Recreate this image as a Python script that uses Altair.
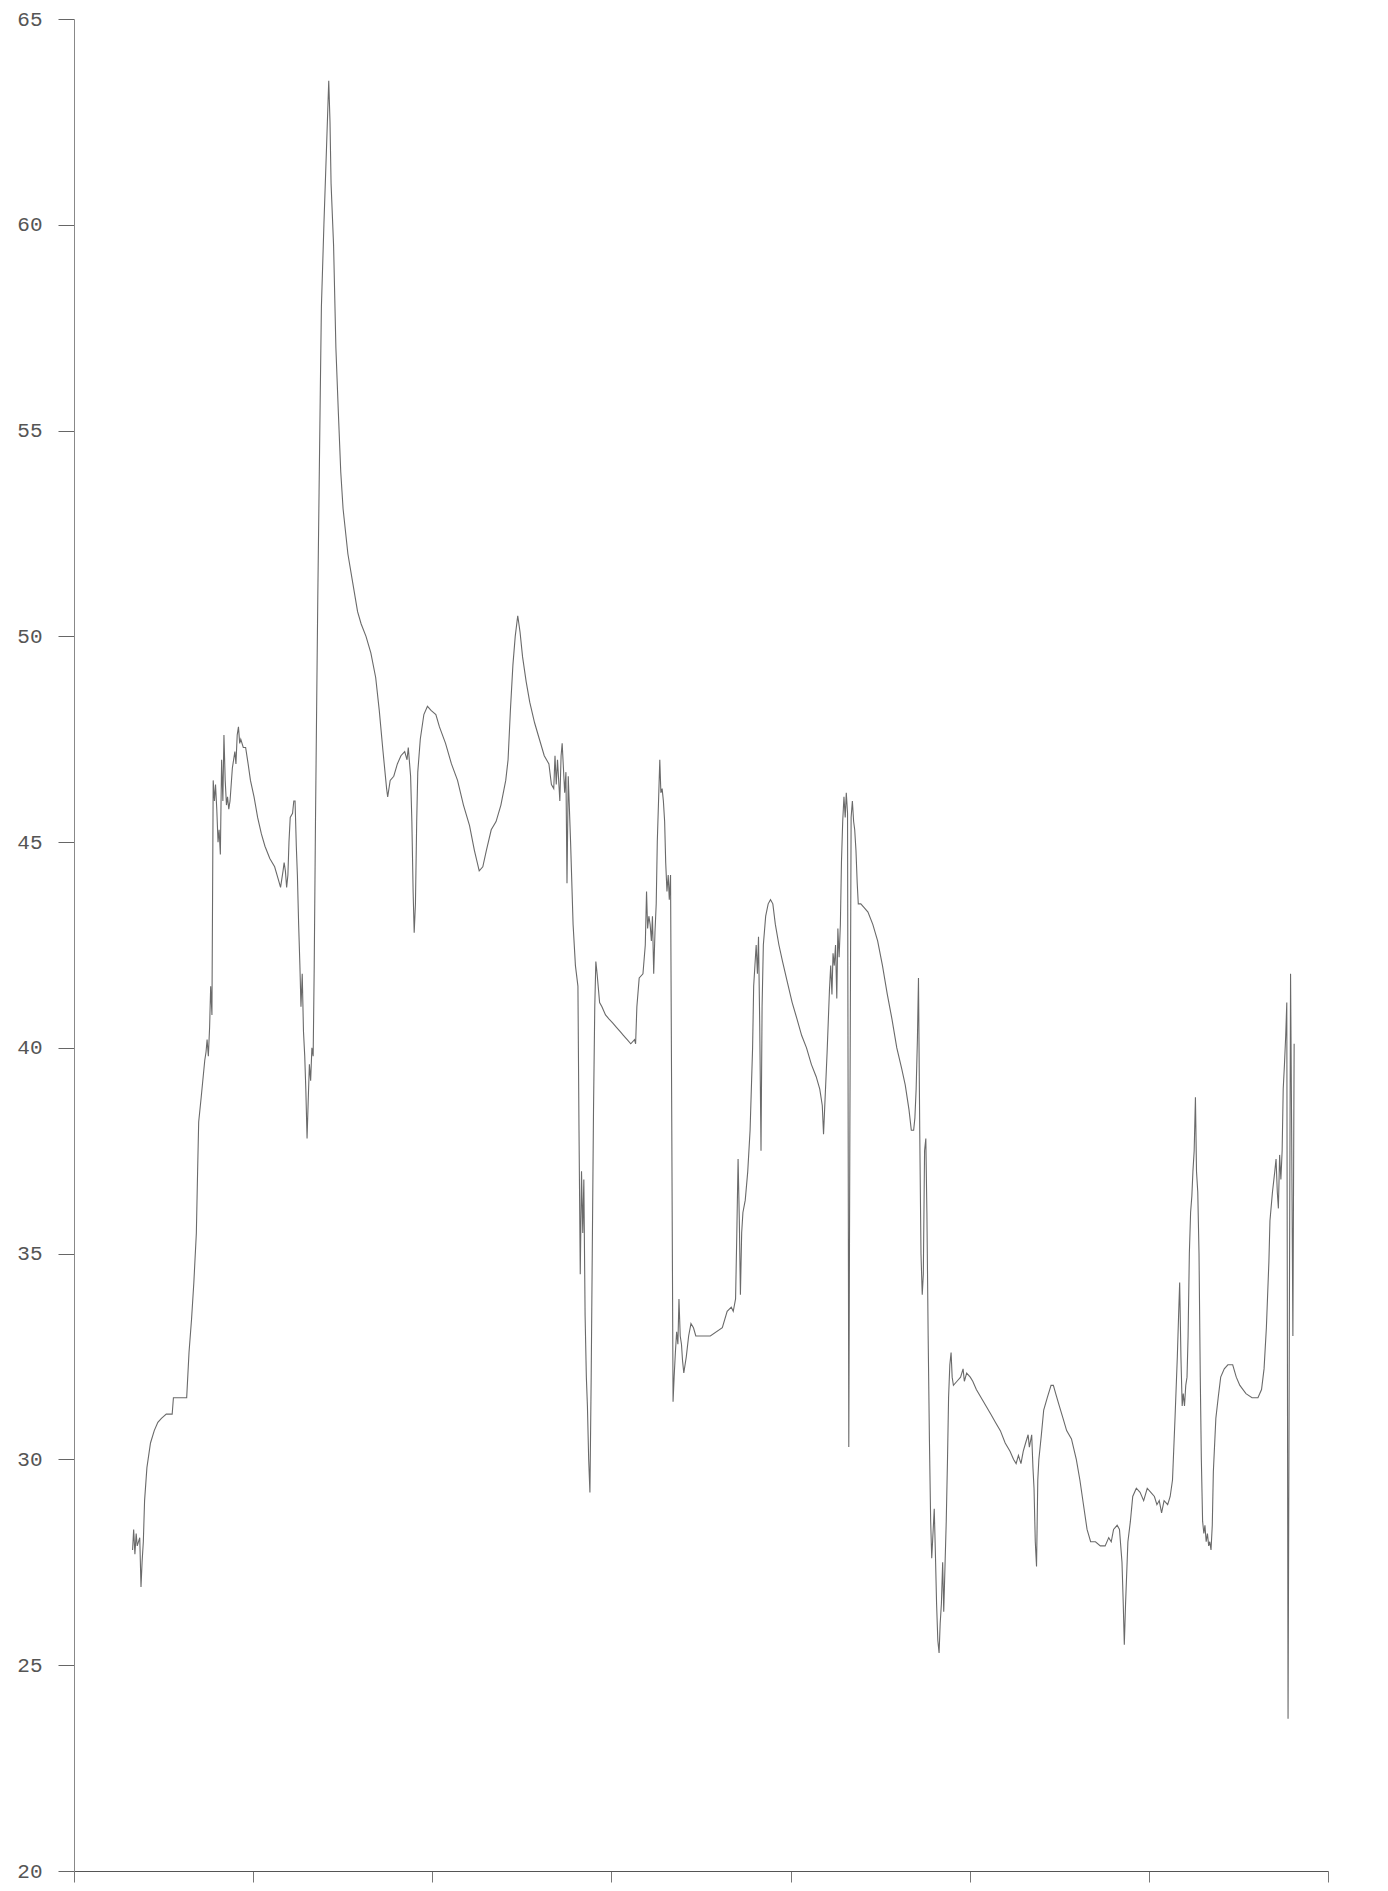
import altair as alt
import pandas as pd

# time in hours (axis ticks every hour, unlabeled)
t = [0.327,0.333,0.340,0.347,0.353,0.367,0.374,0.380,0.387,0.394,0.407,0.427,0.448,0.468,0.488,0.515,0.548,0.555,0.629,0.642,
     0.656,0.669,0.683,0.690,0.696,0.710,0.730,0.737,0.743,0.750,0.757,0.763,0.770,0.777,0.784,0.790,0.797,0.804,0.810,0.817,
     0.824,0.831,0.837,0.844,0.851,0.857,0.864,0.871,0.884,0.898,0.904,0.911,0.918,0.925,0.931,0.945,0.958,0.972,0.985,1.005,
     1.025,1.046,1.066,1.093,1.120,1.140,1.153,1.167,1.173,1.180,1.187,1.194,1.200,1.207,1.220,1.227,1.234,1.241,1.247,1.254,
     1.261,1.267,1.274,1.281,1.288,1.294,1.301,1.308,1.314,1.321,1.328,1.335,1.341,1.348,1.355,1.361,1.368,1.375,1.381,1.395,
     1.409,1.422,1.429,1.435,1.449,1.462,1.476,1.489,1.502,1.529,1.556,1.583,1.603,1.630,1.657,1.684,1.704,1.725,1.745,1.751,
     1.765,1.785,1.805,1.825,1.846,1.859,1.866,1.879,1.886,1.893,1.899,1.906,1.913,1.919,1.933,1.953,1.973,1.993,2.020,2.040,
     2.074,2.107,2.141,2.174,2.208,2.235,2.262,2.282,2.302,2.329,2.356,2.383,2.410,2.423,2.436,2.450,2.463,2.477,2.490,2.504,
     2.524,2.544,2.571,2.598,2.625,2.651,2.665,2.678,2.685,2.692,2.699,2.712,2.719,2.725,2.732,2.739,2.746,2.752,2.759,2.772,
     2.786,2.799,2.813,2.819,2.826,2.833,2.840,2.846,2.853,2.860,2.866,2.873,2.880,2.887,2.893,2.900,2.907,2.913,2.920,2.934,
     2.947,2.967,2.987,3.008,3.028,3.048,3.068,3.088,3.108,3.129,3.135,3.142,3.155,3.176,3.189,3.196,3.202,3.209,3.216,3.223,
     3.229,3.236,3.243,3.250,3.256,3.263,3.270,3.276,3.283,3.290,3.297,3.303,3.310,3.317,3.323,3.330,3.337,3.344,3.350,3.357,
     3.364,3.371,3.377,3.384,3.391,3.397,3.404,3.418,3.431,3.444,3.458,3.471,3.552,3.619,3.646,3.669,3.680,3.693,3.700,3.707,
     3.714,3.720,3.727,3.734,3.747,3.761,3.774,3.788,3.794,3.801,3.808,3.815,3.821,3.828,3.835,3.841,3.848,3.861,3.875,3.888,
     3.901,3.915,3.935,3.955,3.982,4.009,4.036,4.062,4.089,4.116,4.143,4.163,4.177,4.184,4.190,4.204,4.217,4.224,4.231,4.237,
     4.244,4.251,4.258,4.264,4.271,4.278,4.284,4.291,4.298,4.305,4.311,4.318,4.325,4.331,4.338,4.345,4.352,4.358,4.365,4.372,
     4.378,4.392,4.412,4.432,4.459,4.486,4.513,4.540,4.566,4.593,4.620,4.640,4.661,4.674,4.687,4.694,4.701,4.708,4.714,4.721,
     4.728,4.735,4.741,4.748,4.755,4.761,4.768,4.775,4.782,4.788,4.795,4.802,4.808,4.815,4.822,4.829,4.835,4.842,4.849,4.855,
     4.862,4.869,4.876,4.882,4.889,4.896,4.902,4.909,4.929,4.949,4.963,4.970,4.983,5.003,5.017,5.037,5.064,5.091,5.118,5.144,
     5.171,5.198,5.225,5.245,5.259,5.272,5.286,5.299,5.312,5.326,5.333,5.346,5.353,5.359,5.366,5.373,5.380,5.386,5.400,5.413,
     5.433,5.454,5.467,5.480,5.500,5.521,5.541,5.568,5.595,5.615,5.635,5.655,5.675,5.702,5.729,5.756,5.776,5.790,5.803,5.823,
     5.836,5.850,5.857,5.863,5.870,5.883,5.897,5.910,5.930,5.951,5.971,5.991,6.011,6.031,6.045,6.058,6.071,6.085,6.105,6.119,
     6.132,6.146,6.159,6.166,6.172,6.179,6.186,6.192,6.199,6.206,6.213,6.219,6.226,6.233,6.240,6.246,6.253,6.260,6.266,6.273,
     6.280,6.287,6.293,6.300,6.307,6.313,6.320,6.327,6.334,6.340,6.347,6.354,6.360,6.374,6.387,6.401,6.421,6.441,6.468,6.488,
     6.508,6.542,6.576,6.609,6.629,6.643,6.656,6.670,6.676,6.690,6.703,6.710,6.717,6.723,6.730,6.737,6.744,6.750,6.757,6.764,
     6.770,6.777,6.784,6.791,6.797,6.804,6.811]

v = [27.8,28.3,27.7,28.2,27.9,28.1,26.9,27.5,28.0,29.0,29.8,30.4,30.7,30.9,31.0,31.1,31.1,31.5,31.5,32.6,
     33.4,34.3,35.5,37.0,38.2,38.8,39.7,39.9,40.2,39.8,40.5,41.5,40.8,46.5,46.0,46.4,45.8,45.0,45.3,44.7,
     47.0,46.0,47.6,46.5,45.9,46.1,45.8,46.0,46.8,47.2,46.9,47.6,47.8,47.4,47.5,47.3,47.3,46.9,46.5,46.1,
     45.6,45.2,44.9,44.6,44.4,44.1,43.9,44.3,44.5,44.3,43.9,44.2,45.0,45.6,45.7,46.0,46.0,44.9,44.2,43.0,
     42.0,41.0,41.8,40.4,39.8,39.0,37.8,38.8,39.6,39.2,40.0,39.8,42.0,45.5,48.5,51.0,53.5,56.0,58.0,60.0,
     61.8,63.5,62.5,61.0,59.5,57.0,55.4,54.0,53.1,52.0,51.3,50.6,50.3,50.0,49.6,49.0,48.2,47.2,46.3,46.1,
     46.5,46.6,46.9,47.1,47.2,47.0,47.3,46.6,45.5,43.8,42.8,43.5,45.5,46.7,47.5,48.1,48.3,48.2,48.1,47.8,
     47.4,46.9,46.5,45.9,45.4,44.8,44.3,44.4,44.8,45.3,45.5,45.9,46.5,47.0,48.2,49.3,50.0,50.5,50.1,49.5,
     48.9,48.4,47.9,47.5,47.1,46.9,46.4,46.3,47.1,46.4,47.0,46.0,47.1,47.4,46.8,46.2,46.7,44.0,46.6,45.0,
     43.0,42.0,41.5,38.0,34.5,37.0,35.5,36.8,33.5,32.0,31.3,30.0,29.2,32.0,35.0,38.5,41.0,42.1,41.8,41.1,
     41.0,40.8,40.7,40.6,40.5,40.4,40.3,40.2,40.1,40.2,40.1,41.0,41.7,41.8,42.5,43.8,42.9,43.2,43.0,42.6,
     43.2,41.8,42.8,43.5,45.0,46.0,47.0,46.2,46.3,46.0,45.5,44.5,43.8,44.2,43.6,44.2,38.0,31.4,32.0,32.6,
     33.1,32.8,33.9,33.0,32.8,32.4,32.1,32.5,33.0,33.3,33.2,33.0,33.0,33.2,33.6,33.7,33.6,33.9,35.5,37.3,
     35.8,34.0,35.5,36.0,36.3,37.0,38.0,40.0,41.5,42.0,42.5,41.8,42.7,40.5,37.5,41.0,42.5,43.2,43.5,43.6,
     43.5,43.0,42.5,42.1,41.6,41.1,40.7,40.3,40.0,39.6,39.3,39.0,38.6,37.9,38.5,39.9,41.4,42.0,41.3,42.3,
     42.0,42.5,41.2,42.9,42.2,43.0,44.5,45.5,46.1,45.6,46.2,45.7,30.3,38.0,45.6,46.0,45.5,45.3,44.8,44.0,
     43.5,43.5,43.4,43.3,43.0,42.6,42.0,41.3,40.7,40.0,39.5,39.1,38.5,38.0,38.0,38.3,39.0,40.2,41.7,38.0,
     35.0,34.0,34.5,37.5,37.8,36.0,33.0,30.5,28.5,27.6,28.2,28.8,27.8,26.5,25.6,25.3,26.0,26.5,27.5,26.3,
     27.4,28.5,30.0,31.5,32.3,32.6,32.0,31.8,31.9,32.0,32.2,31.9,32.1,32.0,31.9,31.7,31.5,31.3,31.1,30.9,
     30.7,30.4,30.2,30.0,29.9,30.1,29.9,30.2,30.4,30.6,30.3,30.6,29.8,29.3,28.0,27.4,29.5,30.0,30.6,31.2,
     31.5,31.8,31.8,31.6,31.3,31.0,30.7,30.5,30.0,29.5,28.9,28.3,28.0,28.0,27.9,27.9,28.1,28.0,28.3,28.4,
     28.3,27.5,26.5,25.5,26.5,28.0,28.5,29.1,29.3,29.2,29.0,29.3,29.2,29.1,28.9,29.0,28.7,29.0,28.9,29.1,
     29.5,31.0,32.5,33.5,34.3,32.5,31.3,31.6,31.3,31.8,32.0,33.0,35.0,36.0,36.4,37.0,37.5,38.8,37.0,36.5,
     35.0,32.0,30.0,28.5,28.2,28.4,28.0,28.2,27.9,28.0,27.8,28.4,29.7,31.0,31.5,32.0,32.2,32.3,32.3,32.0,
     31.8,31.6,31.5,31.5,31.7,32.2,33.2,34.8,35.8,36.5,37.0,37.3,36.5,36.1,37.4,36.8,37.5,39.0,39.6,40.3,
     41.1,23.7,33.0,41.8,38.0,33.0,40.1]

y_ticks = [20, 25, 30, 35, 40, 45, 50, 55, 60, 65]
x_ticks = [0, 1, 2, 3, 4, 5, 6, 7]

n = min(len(t), len(v))
df = pd.DataFrame({"t": t[:n], "v": v[:n], "i": list(range(n))})

chart = alt.Chart(df).mark_line(color="#6a6a6a", strokeWidth=1.1).encode(
    x=alt.X("t:Q", scale=alt.Scale(domain=[0, 7], nice=False, zero=False),
            axis=alt.Axis(values=x_ticks, labels=False, title=None, grid=False,
                          tickSize=11, tickColor="#777", domainColor="#555", domainWidth=1.2)),
    y=alt.Y("v:Q", scale=alt.Scale(domain=[20, 65], nice=False, zero=False),
            axis=alt.Axis(values=y_ticks, title=None, grid=False, tickSize=16,
                          tickColor="#666", domainColor="#888", labelPadding=16,
                          labelFont="Liberation Mono", labelFontSize=21,
                          labelColor="#555", labelFontWeight="normal")),
    order="i:Q",
).properties(
    width=1254, height=1852,
    autosize=alt.AutoSizeParams(type="none"),
    padding={"left": 66, "top": 11, "right": 48, "bottom": 12},
).configure_view(stroke=None)

chart.save("out.html", embed_options={"renderer": "svg", "actions": False})
